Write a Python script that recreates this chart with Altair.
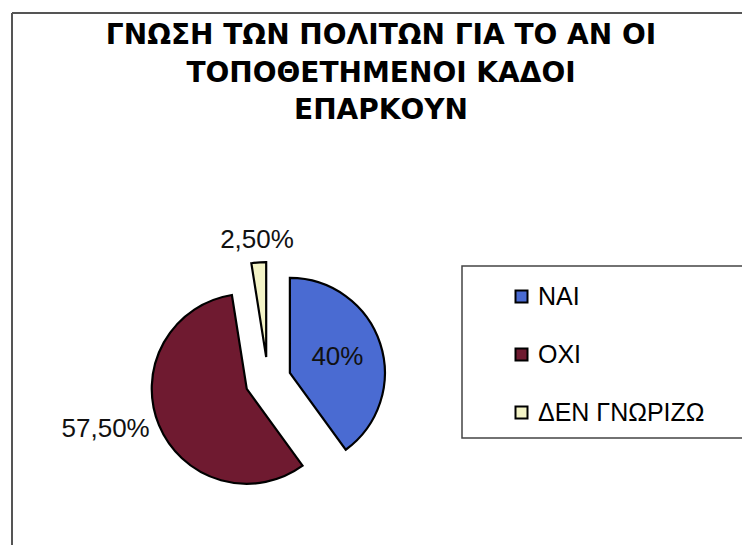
import altair as alt
import pandas as pd

# ---- data ----
categories = ["ΝΑΙ", "ΟΧΙ", "ΔΕΝ ΓΝΩΡΙΖΩ"]
shares = [40.0, 57.5, 2.5]
labels = ["40%", "57,50%", "2,50%"]
title_lines = ["ΓΝΩΣΗ ΤΩΝ ΠΟΛΙΤΩΝ ΓΙΑ ΤΟ ΑΝ ΟΙ", "ΤΟΠΟΘΕΤΗΜΕΝΟΙ ΚΑΔΟΙ", "ΕΠΑΡΚΟΥΝ"]

# ---- styles ----
colors = ["#4a6bd2", "#6f1a30", "#f3f3c6"]
FONT = "Liberation Sans"
TITLE_FONT = "DejaVu Sans"
W, H = 734, 537
CX, CY = 260, 372      # pie centre (px)
R = 95                 # pie radius
EXPLODE = 23           # slice explosion distance
LABEL_R = {"ΝΑΙ": 50, "ΟΧΙ": 105, "ΔΕΝ ΓΝΩΡΙΖΩ": 117}

df = pd.DataFrame({"cat": categories, "share": shares, "label": labels,
                   "order": list(range(len(categories)))})

r_expr = " : ".join(f"datum.cat == '{k}' ? {v}" for k, v in LABEL_R.items()) + " : 60"

base = (
    alt.Chart(df)
    .transform_window(cum="sum(share)", sort=[alt.SortField("order")], frame=[None, 0])
    .transform_joinaggregate(total="sum(share)")
    .transform_calculate(t1="datum.cum / datum.total * 2 * PI")
    .transform_calculate(t0="(datum.cum - datum.share) / datum.total * 2 * PI")
    .transform_calculate(mid="(datum.t0 + datum.t1) / 2")
    .transform_calculate(px=f"{CX} + {EXPLODE} * sin(datum.mid)")
    .transform_calculate(py=f"{CY} - {EXPLODE} * cos(datum.mid)")
    .transform_calculate(lr=r_expr)
    .transform_calculate(lx="datum.px + datum.lr * sin(datum.mid)")
    .transform_calculate(ly="datum.py - datum.lr * cos(datum.mid)")
)

pie = base.mark_arc(radius=R, stroke="black", strokeWidth=2.2).encode(
    x=alt.X("px:Q", scale=None, axis=None),
    y=alt.Y("py:Q", scale=None, axis=None),
    theta=alt.Theta("t0:Q", scale=None, stack=None),
    theta2="t1:Q",
    color=alt.Color(
        "cat:N",
        scale=alt.Scale(domain=categories, range=colors),
        sort=categories,
        legend=alt.Legend(
            title=None, orient="none", legendX=501, legendY=276,
            symbolType="square", symbolSize=144,
            symbolStrokeColor="black", symbolStrokeWidth=2,
            labelFont=FONT, labelFontSize=25, labelColor="black",
            labelOffset=4, rowPadding=32, padding=0, labelLimit=400,
        ),
    ),
)

lbl_center = base.transform_filter("datum.cat != 'ΟΧΙ'").mark_text(
    font=FONT, fontSize=26, color="#111", align="center", baseline="middle"
).encode(
    x=alt.X("lx:Q", scale=None, axis=None),
    y=alt.Y("ly:Q", scale=None, axis=None),
    text="label:N",
)
lbl_right = base.transform_filter("datum.cat == 'ΟΧΙ'").mark_text(
    font=FONT, fontSize=26, color="#111", align="right", baseline="middle"
).encode(
    x=alt.X("lx:Q", scale=None, axis=None),
    y=alt.Y("ly:Q", scale=None, axis=None),
    text="label:N",
)

one = alt.Data(values=[{}])

title = alt.Chart(one).mark_text(
    text=title_lines, font=TITLE_FONT, fontSize=28, fontWeight="bold", color="black",
    align="center", baseline="alphabetic", lineHeight=37.5,
).encode(x=alt.value(373), y=alt.value(36))

frame_top = alt.Chart(one).mark_rule(color="#555", strokeWidth=2).encode(
    x=alt.value(4), x2=alt.value(760), y=alt.value(5))
frame_left = alt.Chart(one).mark_rule(color="#555", strokeWidth=2).encode(
    x=alt.value(4), y=alt.value(5), y2=alt.value(560))

legend_box = alt.Chart(one).mark_rect(fillOpacity=0, stroke="#444", strokeWidth=1.5).encode(
    x=alt.value(454), x2=alt.value(770), y=alt.value(258), y2=alt.value(430))

chart = alt.layer(
    frame_top, frame_left, title, legend_box, pie, lbl_center, lbl_right
).properties(
    width=W, height=H, padding=0, autosize=alt.AutoSizeParams(type="none"),
    background="white",
).configure_view(strokeWidth=0)

chart.save("out.html", embed_options={"renderer": "svg", "actions": False})
